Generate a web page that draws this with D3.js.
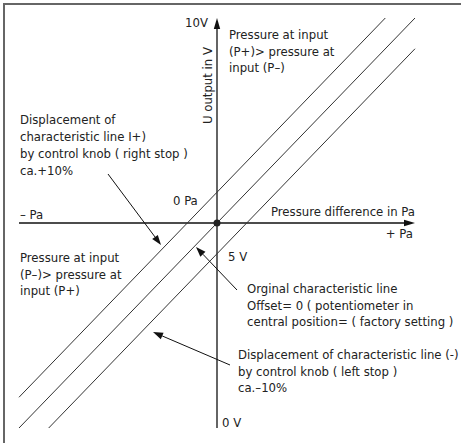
<!DOCTYPE html>
<html>
<head>
<meta charset="utf-8">
<script src="https://cdn.jsdelivr.net/npm/d3@7"></script>
<style>
  body { margin: 0; background: #fff; }
  svg text { font-family: "DejaVu Sans Condensed", "Liberation Sans Narrow", sans-serif; font-size: 13px; fill: #222; }
</style>
</head>
<body>
<svg id="chart" width="461" height="443"></svg>
<script>
//-----------------------------------------------------//

// Chart data: pressure difference (Pa) vs output (V)
const pressureRange = [-100, 100];
const voltRange = [0, 10];
const linePlus = [[-100, 0.75], [85, 10]];
const lineOriginal = [[-100, 0], [100, 10]];
const lineMinus = [[-85, 0], [100, 9.25]];

// Text blocks
const textUpperRight = ["Pressure at input", "(P+)> pressure at", "input (P\u2013)"];
const textLowerLeft = ["Pressure at input", "(P\u2013)> pressure at", "input (P+)"];
const textPlus = ["Displacement of", "characteristic line I+)", "by control knob ( right stop )", "ca.+10%"];
const textOriginal = ["Orginal characteristic line", "Offset= 0 ( potentiometer in", "central position= ( factory setting )"];
const textMinus = ["Displacement of characteristic line (-)", "by control knob ( left stop )", "ca.\u201310%"];

//-----------------------------------------------------//

var svg = d3.select("#chart");

var x = d3.scaleLinear().domain(pressureRange).range([19, 415]);
var y = d3.scaleLinear().domain(voltRange).range([428, 18]);

// frame (top and left only are visible)
svg.append("path")
  .attr("d", "M4,443 L4,4 L461,4")
  .attr("fill", "none").attr("stroke", "#666").attr("stroke-width", 2);

// line with a filled head at (x2,y2)
function arrow(x1, y1, x2, y2, len, half, sw) {
  let a = Math.atan2(y2 - y1, x2 - x1);
  let bx = x2 - len * Math.cos(a), by = y2 - len * Math.sin(a);
  svg.append("line")
    .attr("x1", x1).attr("y1", y1).attr("x2", bx).attr("y2", by)
    .attr("stroke", "#111").attr("stroke-width", sw);
  let px = -Math.sin(a) * half, py = Math.cos(a) * half;
  svg.append("path")
    .attr("d", `M${x2},${y2} L${bx + px},${by + py} L${bx - px},${by - py} Z`)
    .attr("fill", "#111");
}

// axes
var x0 = x(0), y5 = y(5);
arrow(x(pressureRange[0]), y5, x(pressureRange[1]), y5, 11, 3.2, 1.3);
arrow(x0, y(voltRange[0]), x0, y(voltRange[1]), 11, 3.2, 1.3);

// characteristic lines
var lineGen = d3.line().x(d => x(d[0])).y(d => y(d[1]));
svg.selectAll(".charline")
  .data([linePlus, lineOriginal, lineMinus])
  .enter().append("path")
  .attr("class", "charline")
  .attr("d", lineGen)
  .attr("fill", "none")
  .attr("stroke", "#333")
  .attr("stroke-width", 1);

svg.append("circle")
  .attr("cx", x0).attr("cy", y5).attr("r", 3.5)
  .attr("fill", "#222");

// annotation arrows
arrow(108, 174, 161, 245, 10, 3.5, 1);
arrow(237, 290, 196, 247, 10, 3.5, 1);
arrow(230, 365, 153, 332, 10, 3.5, 1);

// text helpers
function block(lines, tx, ty, step) {
  var t = svg.append("text");
  lines.forEach(function(s, i) {
    t.append("tspan").attr("x", tx).attr("y", ty + i * step).text(s);
  });
}

block(textUpperRight, 229, 39, 16.5);
block(textLowerLeft, 20, 262, 16.5);
block(textPlus, 20, 124, 17);
block(textOriginal, 247, 293, 16.5);
block(textMinus, 238, 359, 16.5);

svg.append("text").attr("x", 208).attr("y", 27).attr("text-anchor", "end").text("10V");
svg.append("text").attr("x", 222).attr("y", 427).text("0 V");
svg.append("text").attr("x", 228).attr("y", 261).text("5 V");
svg.append("text").attr("x", 173).attr("y", 205).text("0 Pa");
svg.append("text").attr("x", 20).attr("y", 219).text("\u2013 Pa");
svg.append("text").attr("x", 413).attr("y", 238).attr("text-anchor", "end").text("+ Pa");
svg.append("text").attr("x", 271).attr("y", 216).text("Pressure difference in Pa");
svg.append("text")
  .attr("transform", "translate(212,124) rotate(-90)")
  .text("U output in V");
</script>
</body>
</html>
